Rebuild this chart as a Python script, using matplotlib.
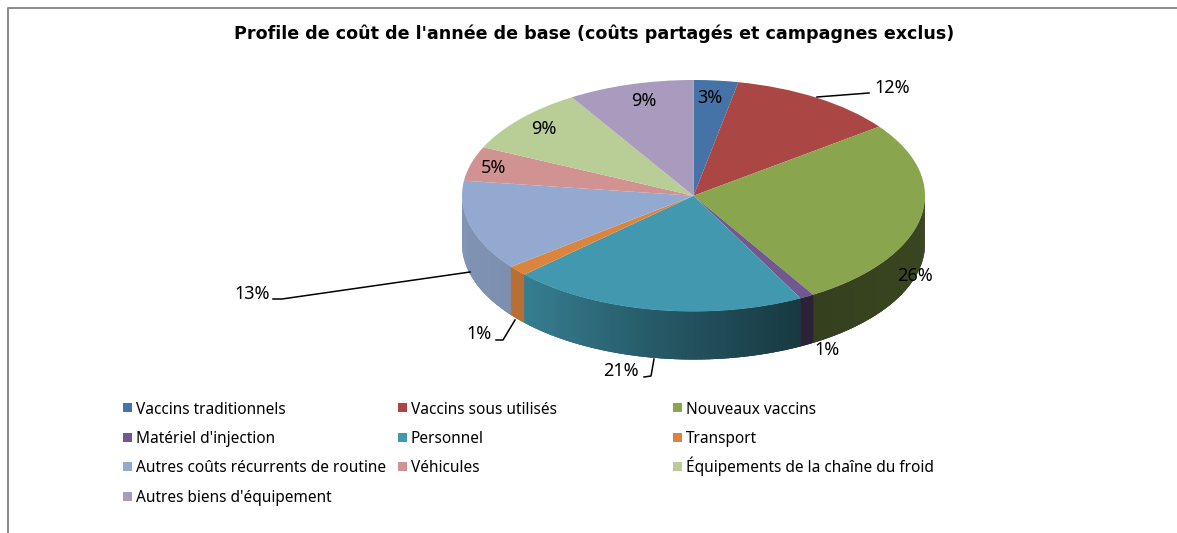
import numpy as np
import matplotlib
matplotlib.use('Agg')
import matplotlib.pyplot as plt
from matplotlib.patches import Rectangle, Polygon

W, H = 1177, 533

title = "Profile de coût de l'année de base (coûts partagés et campagnes exclus)"
categories = ["Vaccins traditionnels", "Vaccins sous utilisés", "Nouveaux vaccins",
              "Matériel d'injection", "Personnel", "Transport",
              "Autres coûts récurrents de routine", "Véhicules",
              "Équipements de la chaîne du froid", "Autres biens d'équipement"]
values = [3.1, 11.7, 26.5, 1.0, 20.7, 1.4, 12.6, 4.8, 9.3, 8.8]
colors = ['#4572A7', '#AA4643', '#89A54E', '#71588F', '#4198AF',
          '#DB843D', '#93A9CF', '#D19392', '#B9CD96', '#A99BBD']

# label centres and leader lines, in pixels
label_pos = [(710, 98), (892, 88), (915, 276), (827, 350), (621, 371),
             (479, 334), (252, 294), (494, 168), (544, 129), (644, 101)]
leaders = {1: [(817, 97), (869, 93)],
           4: [(654, 359), (651, 376), (644, 377)],
           5: [(515, 320), (503, 340), (496, 340)],
           6: [(470, 272), (282, 299), (273, 299)]}

plt.rcParams['font.family'] = ['Noto Sans', 'DejaVu Sans']
fig = plt.figure(figsize=(W / 100, H / 100), dpi=100)

# pixel overlay for the frame, title, legend and labels
bg = fig.add_axes([0, 0, 1, 1])
bg.set_xlim(0, W)
bg.set_ylim(H, 0)
bg.axis('off')
bg.plot([8, 8, W], [H, 8, 8], color='#8a8a8a', lw=1.4)
bg.text(594.5, 34, title, ha='center', va='center', fontsize=12.64, fontweight='bold',
        family='DejaVu Sans', color='black')

# pie: axes box is exactly the ellipse plus the wall depth
x0, x1, y0, y1, depth_px = 462, 925, 80, 311.5, 48
depth = depth_px / ((y1 - y0) / 2)
ax = fig.add_axes([x0 / W, 1 - (y1 + depth_px) / H, (x1 - x0) / W, (y1 + depth_px - y0) / H])
ax.pie(values, colors=colors, startangle=90, counterclock=False, radius=1,
       wedgeprops={'linewidth': 0, 'zorder': 5})
ax.set_aspect('auto')
ax.set_xlim(-1, 1)
ax.set_ylim(-1 - depth, 1)
ax.axis('off')


def shade(s):
    return np.interp(s, [-1, -0.75, -0.2, 0.45, 1], [0.87, 0.84, 0.60, 0.38, 0.42])


# front walls, cut in strips so the shading runs left to right
# each strip runs a bit under the next one so no seams show
fr = np.cumsum([0] + values) / sum(values) * 360
for i, c in enumerate(colors):
    a = max(fr[i], 90)
    b = min(fr[i + 1], 270)
    if b <= a:
        continue
    rgb = np.array(matplotlib.colors.to_rgb(c))
    edges = np.linspace(a, b, max(int((b - a) * 3), 2) + 1)
    for t0, t1 in zip(edges[:-1], edges[1:]):
        tt = np.radians(np.linspace(t0, min(t1 + 0.6, 270), 6))
        xs = np.sin(tt)
        ys = np.cos(tt)
        pts = np.vstack([np.column_stack([xs, ys]), np.column_stack([xs[::-1], ys[::-1] - depth])])
        col = rgb * shade(np.sin(np.radians((t0 + t1) / 2)))
        ax.add_patch(Polygon(pts, closed=True, fc=col, ec='none', lw=0, zorder=2))

# labels on top of everything
top = fig.add_axes([0, 0, 1, 1])
top.set_xlim(0, W)
top.set_ylim(H, 0)
top.axis('off')
top.patch.set_alpha(0)
for v, (x, y) in zip(values, label_pos):
    top.text(x, y, f"{v:.0f}%", ha='center', va='center', fontsize=13, color='black')
for pts in leaders.values():
    top.plot([p[0] for p in pts], [p[1] for p in pts], color='black', lw=1.1)

# legend, filled row by row
square_top = [403, 433, 462, 492]
baseline = [413.5, 443, 472, 502]
for i, (name, c) in enumerate(zip(categories, colors)):
    lx = 123 + 275 * (i % 3)
    top.add_patch(Rectangle((lx, square_top[i // 3]), 9, 9, fc=c, ec='none'))
    top.text(lx + 13, baseline[i // 3], name, ha='left', va='baseline', fontsize=11.1, color='black')

fig.savefig('out.png', dpi=100)
